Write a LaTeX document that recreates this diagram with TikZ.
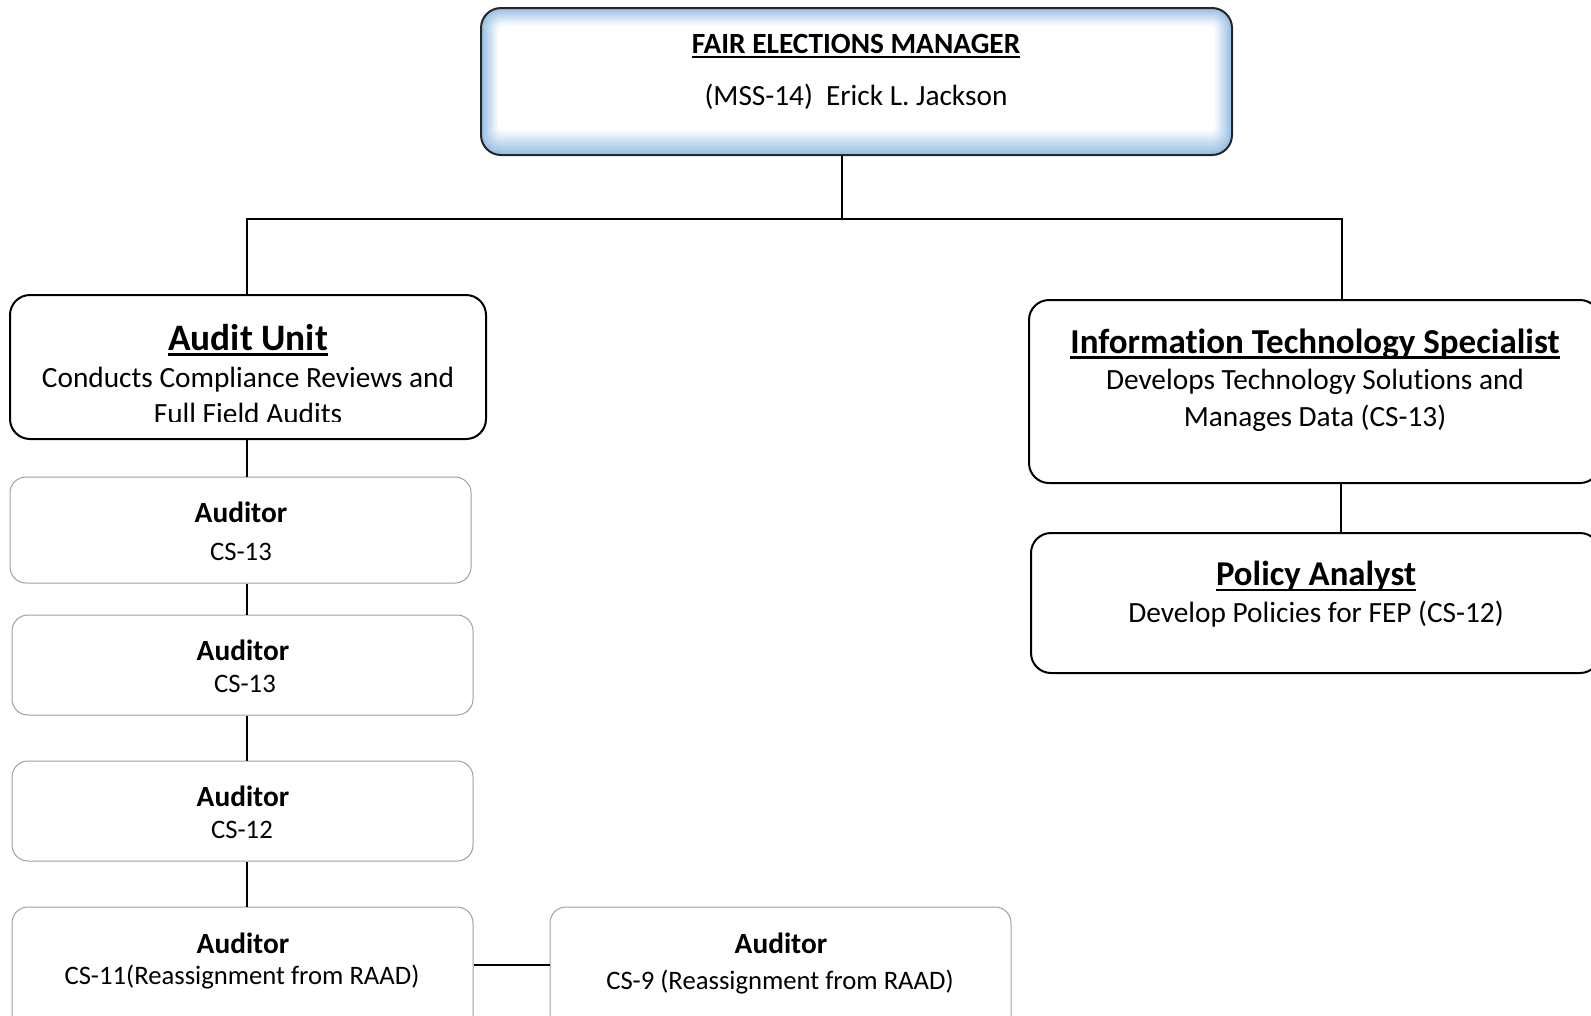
\documentclass[tikz,border=0pt]{standalone}
\usepackage{fontspec}
\setmainfont{Carlito}[Ligatures=NoCommon]
\usetikzlibrary{fit}
\newcommand{\myul}[1]{\setbox0=\hbox{#1}\rlap{\rule[-0.16em]{\wd0}{0.07em}}\box0}
\definecolor{glowblue}{RGB}{150,190,228}
\definecolor{softgray}{RGB}{160,160,160}
\tikzset{
  mainbox/.style={draw=black, line width=1.5pt, rounded corners=15pt, inner sep=0pt},
  audbox/.style={draw=softgray, line width=0.75pt, rounded corners=12pt, inner sep=0pt},
  conn/.style={draw=black, line width=1.1pt},
  txt/.style={inner sep=0pt, align=center},
  bigtitle/.style={txt, font=\fontsize{#1}{32}\selectfont\bfseries},
  body/.style={txt, font=\fontsize{22}{26}\selectfont},
  audtitle/.style={txt, font=\fontsize{22}{26}\selectfont\bfseries},
  audbody/.style={txt, font=\fontsize{20}{24}\selectfont},
  toptitle/.style={txt, font=\fontsize{22}{26}\selectfont\bfseries},
  topbody/.style={txt, font=\fontsize{22}{26}\selectfont},
}
\begin{document}
\begin{tikzpicture}[x=0.75pt, y=-0.75pt]
\useasboundingbox (0,0) rectangle (1591,1015);
\clip (0,0) rectangle (1591,1015);
\fill[white] (0,0) rectangle (1591,1015);

% top box with inner glow
\foreach \i in {0,...,14}{
  \pgfmathsetmacro\rc{max(3,15-\i*0.8)}
  \pgfmathsetmacro\pc{100-\i*7}
  \fill[glowblue!\pc!white, rounded corners=\rc pt] (481+\i*1.2, 8+\i*1.2) rectangle (1232-\i*1.2, 155-\i*1.7);
}
\fill[white, rounded corners=4pt] (499,26) rectangle (1214,130);
\node[mainbox, draw=black!85, fit={(481,8)(1232,155)}] (top) {};
\node[toptitle] (toptitle) at (856,46) {\myul{FAIR ELECTIONS MANAGER}};
\node[topbody] (topname) at (856,97) {(MSS-14)\ \ Erick L. Jackson};

% coordinates for connectors
\coordinate (cx) at (842,0);
\coordinate (hy) at (0,219);
\coordinate (lx) at (247,0);
\coordinate (rx) at (1342,0);
\coordinate (px) at (1341,0);
\coordinate (sy) at (0,965);

% Audit unit
\node[mainbox, fit={(10,295)(486,439)}] (audit) {};
\node[bigtitle=28] (audittitle) at (248,340) {\myul{Audit Unit}};
\begin{scope}
\clip (10,295) rectangle (486,421);
\node[body] (auditl1) at (248,380) {Conducts Compliance Reviews and};
\node[body] (auditl2) at (248,413) {Full Field Audits};
\end{scope}

% IT specialist
\node[mainbox, fit={(1029,300)(1600,483)}] (it) {};
\node[bigtitle=26.25] (ittitle) at (1315,344) {\myul{Information Technology Specialist}};
\node[body] (itl1) at (1315,382) {Develops Technology Solutions and};
\node[body] (itl2) at (1315,418) {Manages Data (CS-13)};

% Policy analyst
\node[mainbox, fit={(1031,533)(1600,673)}] (pa) {};
\node[bigtitle=26.1] (patitle) at (1316,576) {\myul{Policy Analyst}};
\node[body] (pal1) at (1316,614) {Develop Policies for FEP (CS-12)};

% Auditors
\node[audbox, fit={(10,477)(471,583)}] (a1) {};
\node[audtitle] (a1t) at (241,512) {Auditor};
\node[audbody] (a1b) at (241,552) {CS-13};

\node[audbox, fit={(12,615)(473,715)}] (a2) {};
\node[audtitle] (a2t) at (243,650) {Auditor};
\node[audbody] (a2b) at (245,684) {CS-13};

\node[audbox, fit={(12,761)(473,861)}] (a3) {};
\node[audtitle] (a3t) at (243,796) {Auditor};
\node[audbody] (a3b) at (242,830) {CS-12};

\node[audbox, fit={(12,907)(473,1035)}] (a4) {};
\node[audtitle] (a4t) at (243,943) {Auditor};
\node[audbody] (a4b) at (242,977) {CS-11(Reassignment from RAAD)};

\node[audbox, fit={(550,907)(1011,1035)}] (a5) {};
\node[audtitle] (a5t) at (781,943) {Auditor};
\node[audbody] (a5b) at (780,982) {CS-9 (Reassignment from RAAD)};

% connectors
\draw[conn] (top.south -| cx) -- (hy -| cx);
\draw[conn] (audit.north -| lx) -- (hy -| lx) -- (hy -| rx) -- (it.north -| rx);
\draw[conn] (it.south -| px) -- (pa.north -| px);
\draw[conn] (audit.south -| lx) -- (a1.north -| lx);
\draw[conn] (a1.south -| lx) -- (a2.north -| lx);
\draw[conn] (a2.south -| lx) -- (a3.north -| lx);
\draw[conn] (a3.south -| lx) -- (a4.north -| lx);
\draw[conn] (a4.east |- sy) -- (a5.west |- sy);
\end{tikzpicture}
\end{document}
